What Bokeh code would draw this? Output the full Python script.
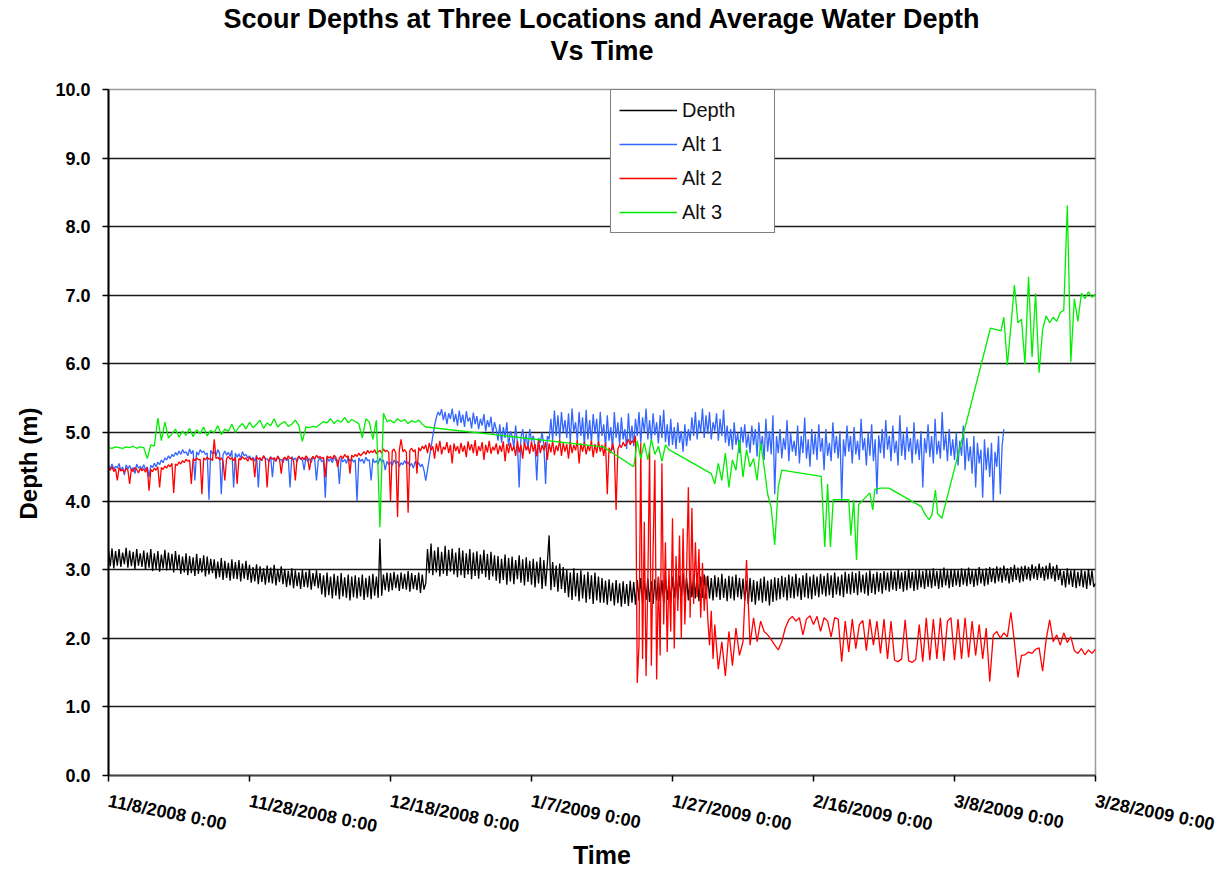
import numpy as np
import pandas as pd
from bokeh.plotting import figure
from bokeh.models import (Range1d, FixedTicker, SingleIntervalTicker,
                          PrintfTickFormatter, Legend, LegendItem, Title)
from bokeh.embed import file_html
from bokeh.resources import INLINE

# ---------------- data ----------------
START_DATE = "2008-11-08"
END_DATE = "2009-03-28"

title_lines = ["Scour Depths at Three Locations and Average Water Depth", "Vs Time"]
x_title = "Time"
y_title = "Depth (m)"

tick_dates = ["2008-11-08", "2008-11-28", "2008-12-18", "2009-01-07",
              "2009-01-27", "2009-02-16", "2009-03-08", "2009-03-28"]
tick_labels = ["11/8/2008 0:00", "11/28/2008 0:00", "12/18/2008 0:00",
               "1/7/2009 0:00", "1/27/2009 0:00", "2/16/2009 0:00",
               "3/8/2009 0:00", "3/28/2009 0:00"]

# Depth (black): samples every 0.25 day from day 0 to day 140
depth_start, depth_step = 0.0, 0.25
depth_vals = [
    3.29, 3.05, 3.31, 3.02, 3.27, 3.06, 3.30, 3.04, 3.25, 3.08, 3.32, 3.03, 3.28, 3.05, 3.26, 3.01, 3.30, 3.06, 3.24, 3.04,
    3.28, 3.00, 3.25, 3.03, 3.30, 2.98, 3.24, 3.01, 3.27, 2.97, 3.22, 3.02, 3.29, 2.99, 3.25, 3.00, 3.23, 2.96, 3.27, 3.01,
    3.22, 2.94, 3.19, 2.96, 3.24, 2.92, 3.20, 2.95, 3.18, 2.91, 3.23, 2.94, 3.17, 2.96, 3.21, 2.90, 3.19, 2.93, 3.16, 2.95,
    3.15, 2.87, 3.12, 2.89, 3.17, 2.85, 3.13, 2.88, 3.10, 2.84, 3.15, 2.87, 3.11, 2.86, 3.14, 2.83, 3.09, 2.87, 3.13, 2.85,
    3.07, 2.81, 3.04, 2.83, 3.08, 2.79, 3.05, 2.82, 3.02, 2.78, 3.06, 2.81, 3.03, 2.80, 3.07, 2.77, 3.01, 2.82, 3.05, 2.79,
    3.01, 2.75, 2.98, 2.77, 3.02, 2.73, 2.99, 2.76, 2.96, 2.72, 3.00, 2.75, 2.97, 2.74, 3.01, 2.71, 2.95, 2.76, 2.99, 2.73,
    2.95, 2.64, 2.92, 2.60, 2.96, 2.63, 2.90, 2.58, 2.94, 2.62, 2.91, 2.57, 2.95, 2.61, 2.89, 2.59, 2.93, 2.55, 2.90, 2.60,
    2.92, 2.58, 2.89, 2.61, 2.93, 2.56, 2.88, 2.60, 2.91, 2.57, 2.94, 2.62, 2.90, 2.59, 3.45, 2.62, 2.93, 2.70, 2.96, 2.68,
    2.95, 2.70, 2.97, 2.73, 2.93, 2.69, 2.96, 2.72, 2.94, 2.71, 2.98, 2.68, 2.95, 2.72, 2.92, 2.70, 2.96, 2.66, 2.93, 2.71,
    2.80, 3.30, 2.95, 3.38, 2.92, 3.28, 2.96, 3.33, 2.90, 3.26, 2.94, 3.35, 2.91, 3.29, 2.97, 3.31, 2.93, 3.25, 2.89, 3.32,
    2.92, 3.28, 2.88, 3.24, 2.93, 3.30, 2.86, 3.25, 2.91, 3.27, 2.87, 3.22, 2.94, 3.29, 2.89, 3.23, 2.85, 3.26, 2.90, 3.21,
    2.84, 3.20, 2.80, 3.16, 2.85, 3.22, 2.78, 3.17, 2.83, 3.19, 2.79, 3.14, 2.86, 3.21, 2.81, 3.15, 2.77, 3.18, 2.82, 3.13,
    2.78, 3.16, 2.74, 3.12, 2.80, 3.18, 2.72, 3.14, 2.76, 3.10, 3.50, 2.70, 3.11, 2.75, 3.06, 2.68, 3.09, 2.72, 3.04, 2.66,
    3.00, 2.60, 2.96, 2.56, 3.02, 2.61, 2.95, 2.54, 2.99, 2.58, 2.93, 2.52, 2.97, 2.57, 2.92, 2.50, 2.96, 2.55, 2.90, 2.52,
    2.88, 2.52, 2.84, 2.49, 2.86, 2.54, 2.81, 2.48, 2.85, 2.51, 2.80, 2.46, 2.83, 2.50, 2.79, 2.47, 2.84, 2.52, 2.82, 2.49,
    2.85, 2.55, 2.88, 2.52, 2.84, 2.56, 2.87, 2.53, 2.83, 2.50, 2.86, 2.55, 2.89, 2.54, 2.85, 2.51, 2.88, 2.56, 2.84, 2.53,
    2.90, 2.59, 2.93, 2.56, 2.91, 2.60, 2.95, 2.57, 2.89, 2.55, 2.94, 2.60, 2.92, 2.58, 2.96, 2.54, 2.90, 2.59, 2.93, 2.57,
    2.91, 2.58, 2.88, 2.55, 2.92, 2.60, 2.89, 2.56, 2.94, 2.59, 2.87, 2.54, 2.91, 2.58, 2.90, 2.55, 2.93, 2.60, 2.88, 2.57,
    2.87, 2.55, 2.84, 2.50, 2.88, 2.53, 2.85, 2.49, 2.83, 2.55, 2.87, 2.52, 2.90, 2.54, 2.84, 2.48, 2.86, 2.53, 2.89, 2.55,
    2.88, 2.57, 2.91, 2.60, 2.89, 2.55, 2.93, 2.59, 2.90, 2.58, 2.94, 2.61, 2.88, 2.56, 2.92, 2.60, 2.95, 2.58, 2.90, 2.57,
    2.93, 2.62, 2.90, 2.60, 2.94, 2.64, 2.91, 2.61, 2.95, 2.63, 2.92, 2.59, 2.96, 2.64, 2.90, 2.62, 2.93, 2.60, 2.97, 2.65,
    2.94, 2.64, 2.97, 2.66, 2.95, 2.63, 2.98, 2.67, 2.93, 2.65, 2.96, 2.62, 2.99, 2.66, 2.94, 2.64, 2.97, 2.68, 2.95, 2.65,
    2.98, 2.70, 2.96, 2.68, 2.99, 2.71, 2.97, 2.69, 3.00, 2.72, 2.96, 2.68, 2.98, 2.70, 3.01, 2.73, 2.97, 2.69, 2.99, 2.71,
    3.00, 2.74, 2.98, 2.72, 3.01, 2.75, 2.99, 2.73, 3.02, 2.76, 2.98, 2.72, 3.00, 2.74, 3.03, 2.77, 2.99, 2.73, 3.01, 2.75,
    3.01, 2.77, 2.99, 2.75, 3.02, 2.78, 3.00, 2.76, 3.03, 2.79, 2.99, 2.75, 3.01, 2.77, 3.04, 2.80, 3.00, 2.76, 3.02, 2.78,
    3.04, 2.82, 3.02, 2.80, 3.05, 2.83, 3.03, 2.81, 3.06, 2.84, 3.02, 2.80, 3.04, 2.82, 3.07, 2.85, 3.03, 2.81, 3.05, 2.83,
    3.06, 2.86, 3.04, 2.84, 3.08, 2.87, 3.05, 2.85, 3.09, 2.88, 3.04, 2.84, 3.06, 2.86, 3.10, 2.87, 3.05, 2.83, 3.07, 2.85,
    3.00, 2.77, 2.98, 2.74, 3.02, 2.78, 2.99, 2.75, 3.01, 2.73, 2.97, 2.76, 3.00, 2.74, 2.98, 2.72, 3.01, 2.77, 2.99, 2.75,
    2.80,
]

# Alt 1 (blue): samples every 0.25 day from day 0 to day 127
alt1_start, alt1_step = 0.0, 0.25
alt1_vals = [
    4.52, 4.47, 4.54, 4.46, 4.51, 4.48, 4.55, 4.44, 4.50, 4.38, 4.53, 4.47, 4.52, 4.45, 4.49, 4.40, 4.54, 4.48, 4.51, 4.46,
    4.53, 4.46, 4.50, 4.35, 4.52, 4.49, 4.55, 4.50, 4.57, 4.53, 4.60, 4.56, 4.63, 4.60, 4.66, 4.62, 4.68, 4.65, 4.71, 4.67,
    4.73, 4.68, 4.75, 4.70, 4.72, 4.66, 4.76, 4.69, 4.74, 4.30, 4.72, 4.67, 4.75, 4.71, 4.73, 4.68, 4.70, 4.02, 4.74, 4.69,
    4.72, 4.66, 4.75, 4.70, 4.10, 4.68, 4.73, 4.67, 4.71, 4.65, 4.74, 4.20, 4.70, 4.64, 4.69, 4.62, 4.72, 4.66, 4.68, 4.63,
    4.66, 4.60, 4.64, 4.58, 4.67, 4.20, 4.63, 4.59, 4.66, 4.61, 4.62, 4.57, 4.65, 4.35, 4.63, 4.58, 4.66, 4.60, 4.61, 4.56,
    4.64, 4.59, 4.62, 4.20, 4.65, 4.60, 4.63, 4.57, 4.66, 4.61, 4.60, 4.45, 4.64, 4.58, 4.62, 4.56, 4.65, 4.60, 4.30, 4.59,
    4.63, 4.57, 4.61, 4.05, 4.64, 4.58, 4.62, 4.56, 4.65, 4.59, 4.60, 4.25, 4.63, 4.57, 4.61, 4.55, 4.64, 4.58, 4.62, 4.57,
    4.60, 4.00, 4.63, 4.58, 4.61, 4.55, 4.64, 4.59, 4.60, 4.30, 4.62, 4.56, 4.59, 4.54, 4.63, 4.57, 4.60, 4.45, 4.58, 4.53,
    4.57, 4.52, 4.60, 4.55, 4.58, 4.50, 4.56, 4.53, 4.59, 4.54, 4.57, 4.51, 4.55, 4.48, 4.58, 4.52, 4.56, 4.50, 4.54, 4.45,
    4.30, 4.45, 4.62, 4.78, 4.95, 5.10, 5.22, 5.30, 5.25, 5.34, 5.18, 5.30, 5.12, 5.28, 5.20, 5.35, 5.15, 5.27, 5.10, 5.32,
    5.14, 5.26, 5.08, 5.31, 5.16, 5.22, 5.06, 5.29, 5.12, 5.24, 5.05, 5.20, 5.10, 5.27, 5.02, 5.18, 5.08, 5.23, 4.98, 5.15,
    5.05, 4.88, 5.12, 4.85, 5.08, 4.92, 5.15, 4.80, 5.02, 4.95, 4.78, 5.10, 4.85, 4.20, 4.92, 5.05, 4.82, 4.98, 4.75, 5.05,
    4.88, 4.95, 4.80, 4.30, 4.92, 4.85, 5.00, 4.82, 4.25, 4.95, 4.90, 5.20, 4.88, 5.32, 4.95, 5.25, 4.90, 5.30, 5.00, 5.18,
    4.92, 5.28, 4.85, 5.35, 5.00, 5.15, 4.88, 5.30, 4.95, 5.22, 4.80, 5.33, 4.90, 5.18, 4.85, 5.27, 4.98, 5.20, 4.82, 5.30,
    4.95, 5.12, 4.78, 5.25, 4.88, 5.08, 4.75, 5.30, 4.92, 5.15, 4.82, 5.22, 4.90, 5.05, 4.76, 5.28, 4.85, 5.10, 4.80, 5.20,
    4.95, 5.30, 4.85, 5.22, 5.00, 5.35, 4.90, 5.18, 4.88, 5.28, 4.96, 5.15, 4.84, 5.25, 4.92, 5.33, 4.86, 5.12, 4.80, 5.20,
    4.82, 5.08, 4.76, 5.15, 4.85, 5.02, 4.72, 5.12, 4.80, 5.05, 4.88, 5.22, 4.95, 5.30, 4.90, 5.18, 5.00, 5.35, 4.92, 5.25,
    4.98, 5.30, 4.90, 5.15, 5.02, 5.28, 4.88, 5.20, 4.95, 5.33, 4.85, 5.10, 4.80, 5.05, 4.75, 5.15, 4.82, 5.00, 4.70, 5.08,
    4.85, 5.12, 4.78, 4.98, 4.70, 5.10, 4.82, 5.05, 4.65, 5.15, 4.75, 4.95, 4.60, 5.20, 4.72, 5.02, 4.68, 5.25, 4.10, 4.95,
    4.70, 5.05, 4.62, 4.92, 4.75, 5.18, 4.58, 5.00, 4.72, 4.88, 4.66, 5.10, 4.55, 4.95, 4.70, 5.22, 4.62, 4.90, 4.50, 5.05,
    4.68, 4.98, 4.60, 5.12, 4.72, 4.92, 4.45, 5.05, 4.66, 4.85, 4.58, 5.15, 4.70, 4.95, 4.62, 5.02, 4.00, 4.90, 4.65, 5.10,
    4.72, 4.95, 4.55, 5.08, 4.68, 4.88, 4.60, 5.20, 4.74, 4.92, 4.52, 5.00, 4.66, 5.12, 4.58, 4.90, 4.10, 4.96, 4.70, 5.05,
    4.62, 5.18, 4.75, 4.95, 4.58, 5.10, 4.70, 4.88, 4.52, 5.25, 4.66, 4.98, 4.60, 5.08, 4.72, 4.92, 4.55, 5.15, 4.68, 4.90,
    4.60, 5.02, 4.20, 4.92, 4.70, 5.12, 4.64, 4.95, 4.55, 5.20, 4.68, 4.88, 4.62, 5.30, 4.74, 4.98, 4.58, 5.05, 4.66, 4.90,
    4.60, 5.00, 4.52, 4.88, 4.66, 5.10, 4.45, 4.92, 4.58, 4.80, 4.40, 4.95, 4.20, 4.85, 4.55, 4.75, 4.05, 4.90, 4.45, 4.78,
    4.35, 4.85, 4.00, 4.72, 4.50, 4.95, 4.10, 4.80, 5.05,
]

# Alt 2 (red): every 0.25 day from day 0 to 85.75, then every 0.5 day to day 140
alt2_a_start, alt2_a_step = 0.0, 0.25
alt2_a = [
    4.48, 4.45, 4.50, 4.43, 4.47, 4.30, 4.49, 4.44, 4.46, 4.42, 4.48, 4.45, 4.25, 4.47, 4.43, 4.49, 4.46, 4.41, 4.48, 4.44,
    4.47, 4.42, 4.49, 4.15, 4.46, 4.43, 4.48, 4.45, 4.50, 4.20, 4.49, 4.46, 4.51, 4.48, 4.53, 4.50, 4.55, 4.12, 4.54, 4.52,
    4.57, 4.54, 4.59, 4.56, 4.61, 4.58, 4.60, 4.25, 4.62, 4.59, 4.63, 4.60, 4.61, 4.10, 4.63, 4.60, 4.64, 4.61, 4.62, 4.59,
    4.90, 4.62, 4.64, 4.60, 4.63, 4.58, 4.30, 4.62, 4.65, 4.61, 4.63, 4.59, 4.64, 4.25, 4.62, 4.60, 4.65, 4.61, 4.63, 4.58,
    4.64, 4.60, 4.62, 4.35, 4.65, 4.61, 4.63, 4.59, 4.66, 4.62, 4.20, 4.60, 4.64, 4.61, 4.63, 4.58, 4.65, 4.62, 4.40, 4.61,
    4.64, 4.60, 4.66, 4.62, 4.63, 4.59, 4.30, 4.62, 4.65, 4.61, 4.64, 4.60, 4.66, 4.63, 4.45, 4.62, 4.65, 4.61, 4.67, 4.63,
    4.65, 4.62, 4.64, 4.35, 4.66, 4.63, 4.65, 4.61, 4.67, 4.64, 4.50, 4.63, 4.66, 4.62, 4.68, 4.64, 4.66, 4.40, 4.67, 4.64,
    4.68, 4.65, 4.70, 4.66, 4.69, 4.72, 4.68, 4.74, 4.70, 4.73, 4.71, 4.75, 4.69, 4.72, 4.74, 4.70, 4.76, 4.72, 4.74, 4.71,
    4.00, 4.73, 4.76, 4.70, 3.77, 4.74, 4.90, 4.72, 4.75, 4.71, 3.83, 4.74, 4.77, 4.72, 4.75, 4.40, 4.78, 4.73, 4.80, 4.76,
    4.82, 4.70, 4.85, 4.74, 4.80, 4.62, 4.84, 4.72, 4.88, 4.68, 4.79, 4.75, 4.86, 4.70, 4.82, 4.55, 4.84, 4.73, 4.80, 4.69,
    4.85, 4.72, 4.81, 4.64, 4.87, 4.74, 4.83, 4.70, 4.89, 4.66, 4.80, 4.73, 4.86, 4.60, 4.82, 4.71, 4.88, 4.69, 4.79, 4.74,
    4.84, 4.68, 4.81, 4.72, 4.87, 4.58, 4.83, 4.70, 4.85, 4.73, 4.80, 4.66, 4.88, 4.71, 4.82, 4.62, 4.86, 4.74, 4.81, 4.69,
    4.87, 4.72, 4.83, 4.65, 4.89, 4.70, 4.82, 4.74, 4.86, 4.60, 4.84, 4.71, 4.88, 4.67, 4.81, 4.73, 4.90, 4.66, 4.85, 4.72,
    4.83, 4.62, 4.87, 4.70, 4.82, 4.74, 4.89, 4.55, 4.84, 4.72, 4.86, 4.68, 4.81, 4.73, 4.88, 4.64, 4.83, 4.70, 4.87, 4.72,
    4.82, 4.66, 4.85, 4.10, 4.78, 4.70, 4.84, 4.72, 3.87, 4.76, 4.82, 4.78, 4.86, 4.80, 4.84, 4.90, 4.82, 4.88, 4.85, 4.95,
    1.35, 1.90, 4.85, 1.70, 3.70, 1.45, 2.80, 4.75, 1.60, 3.30, 4.60, 1.40, 2.90, 1.75, 4.55, 2.20, 3.40, 1.80, 3.00, 2.10,
    3.75, 1.85, 3.20, 2.40, 3.50, 2.00, 3.60, 2.20, 3.00, 4.20, 2.30, 3.90, 2.50, 3.40, 2.60, 3.30, 2.30, 3.10, 2.40, 2.90,
    2.30, 1.90, 2.40, 1.70,
]
alt2_b_start, alt2_b_step = 86.0, 0.5
alt2_b = [
    2.20, 1.55, 1.95, 1.45, 2.10, 1.60, 2.15, 1.75,
    1.95, 3.14, 1.90, 2.30, 1.95, 2.25, 2.10, 2.05, 1.98, 1.90, 1.83, 1.95, 2.15, 2.27, 2.32, 2.25, 2.30, 2.05, 2.28, 2.33,
    2.20, 2.32, 2.10, 2.30, 2.25, 2.02, 2.30, 2.28, 1.66, 2.25, 1.80, 2.28, 1.85, 2.20, 2.26, 1.82, 2.28, 1.90, 2.25, 1.78,
    2.28, 1.70, 2.25, 1.68, 1.66, 1.70, 2.27, 1.67, 1.65, 1.69, 2.20, 1.66, 2.30, 1.68, 2.28, 1.70, 2.30, 1.67, 2.25, 2.30,
    1.68, 2.28, 1.70, 2.30, 1.72, 2.25, 1.75, 2.20, 1.70, 2.15, 1.37, 2.05, 2.10, 2.00, 2.08, 2.02, 2.38, 1.95, 1.43, 1.75,
    1.76, 1.80, 1.78, 1.84, 1.86, 1.52, 1.98, 2.27, 1.95, 2.05, 1.90, 2.08, 1.94, 2.02, 1.82, 1.78, 1.85, 1.76, 1.83, 1.78,
    1.84,
]

# Alt 3 (green): dense pieces (every 0.5 day) and sparse pieces joined by straight lines
alt3_step = 0.5
alt3_a_start = 0.0
alt3_a = [
    4.78, 4.77, 4.79, 4.78, 4.77, 4.79, 4.78, 4.80, 4.77, 4.79, 4.78, 4.62, 4.82, 4.80, 5.21, 4.88, 5.15, 4.92, 4.98, 5.05,
    4.93, 5.02, 4.96, 5.06, 4.94, 5.04, 4.98, 5.08, 4.95, 5.03, 5.00, 5.10, 4.97, 5.05, 5.02, 5.12, 5.00, 5.08, 5.13, 5.05,
    5.15, 5.07, 5.12, 5.18, 5.06, 5.14, 5.10, 5.20, 5.08, 5.13, 5.16, 5.09, 5.12, 5.18, 5.10, 4.87, 5.08, 5.07, 5.09, 5.08,
    5.12, 5.16, 5.14, 5.20, 5.13, 5.18, 5.15, 5.22, 5.14, 5.19, 5.16, 5.13, 4.92, 5.20, 5.15, 4.90, 5.18, 3.62, 5.28, 5.16,
    5.18, 5.14, 5.20, 5.16, 5.19, 5.13, 5.17, 5.15, 5.18, 5.12, 5.08,
]
alt3_b_days = [70.2, 74.5]
alt3_b = [4.79, 4.50]
alt3_c_start = 75.0
alt3_c = [4.88, 4.62, 4.85, 4.60, 4.90, 4.68, 4.80, 4.58, 4.82, 4.75]
alt3_d_start = 85.5
alt3_d = [4.40, 4.25, 4.55, 4.30, 4.70, 4.20, 4.60, 4.45, 4.89, 4.35, 4.75, 4.50, 4.62, 4.30, 4.85,
          4.50, 4.10, 3.90, 3.36, 4.20, 4.45]
alt3_e_days = [101.1, 101.6, 102.0, 102.4, 102.8, 105.0, 105.3, 105.7, 106.1, 106.4, 108.0, 108.4, 108.7,
               109.5, 110.7, 115.3, 115.6, 116.0, 116.4, 116.8, 117.3, 117.6, 118.2, 125.1, 126.6]
alt3_e = [4.36, 3.33, 4.25, 3.33, 4.02, 4.02, 3.50, 4.02, 3.14, 3.95, 4.12, 3.87, 4.17,
          4.19, 4.19, 3.92, 3.85, 3.78, 3.73, 3.80, 4.16, 3.82, 3.75, 6.52, 6.48]
alt3_f_start = 127.0
alt3_f = [6.68, 5.98, 6.55, 7.15, 6.60, 6.65, 6.00, 7.27, 6.10, 7.03, 5.87, 6.50, 6.70, 6.60,
          6.68, 6.62, 6.75, 6.78, 8.31, 6.03, 6.95, 6.62, 7.03, 6.95, 7.05, 6.97, 7.02]

series_names = ["Depth", "Alt 1", "Alt 2", "Alt 3"]
series_colors = ["#000000", "#3366FF", "#FF0000", "#00EE00"]

# ---------------- helpers ----------------
t0 = pd.Timestamp(START_DATE)


def dense_days(start, step, vals):
    return start + step * np.arange(len(vals))


def to_time(days):
    return t0 + pd.to_timedelta(np.asarray(days, dtype=float), unit="D")


depth_t = to_time(dense_days(depth_start, depth_step, depth_vals))
alt1_t = to_time(dense_days(alt1_start, alt1_step, alt1_vals))
alt2_t = to_time(np.concatenate([dense_days(alt2_a_start, alt2_a_step, alt2_a),
                                 dense_days(alt2_b_start, alt2_b_step, alt2_b)]))
alt2_vals = alt2_a + alt2_b
alt3_days = np.concatenate([
    dense_days(alt3_a_start, alt3_step, alt3_a), alt3_b_days,
    dense_days(alt3_c_start, alt3_step, alt3_c),
    dense_days(alt3_d_start, alt3_step, alt3_d), alt3_e_days,
    dense_days(alt3_f_start, alt3_step, alt3_f)])
alt3_vals = alt3_a + alt3_b + alt3_c + alt3_d + alt3_e + alt3_f
alt3_t = to_time(alt3_days)

# ---------------- layout ----------------
FONT = "Liberation Sans"
W, H = 1228, 872
B_LEFT, B_RIGHT, B_TOP, B_BOTTOM = 108, 133, 89, 96
FRAME_H = H - B_TOP - B_BOTTOM

p = figure(width=W, height=H, x_axis_type="datetime",
           x_range=Range1d(pd.Timestamp(START_DATE), pd.Timestamp(END_DATE)),
           y_range=Range1d(0, 10),
           output_backend="svg", toolbar_location=None,
           min_border_left=B_LEFT, min_border_right=B_RIGHT,
           min_border_top=B_TOP, min_border_bottom=B_BOTTOM,
           background_fill_color="white", border_fill_color="white")

# title: first line is the outer title; the second line (with an empty line
# under it for spacing) sits nearer the plot
p.title.text = title_lines[0]
p.title.align = "center"
p.title.text_font = FONT
p.title.text_font_size = "27px"
p.title.text_font_style = "bold"
p.title.text_color = "black"
p.title.standoff = 0
p.add_layout(Title(text=title_lines[1] + "\n", align="center", text_font=FONT,
                   text_font_size="27px", text_font_style="bold",
                   text_color="black", text_line_height=0.8, standoff=0), "above")

# y axis title as a left-side title, shifted along the axis
p.add_layout(Title(text=y_title, align="left", offset=256, text_font=FONT,
                   text_font_size="24px", text_font_style="bold",
                   text_color="black", standoff=21), "left")

p.outline_line_color = "#9a9a9a"
p.outline_line_width = 1.5

# grid
p.xgrid.visible = False
p.ygrid.grid_line_color = "#1a1a1a"
p.ygrid.grid_line_width = 1.5

# y axis
p.yaxis.ticker = SingleIntervalTicker(interval=1, num_minor_ticks=0)
p.yaxis.formatter = PrintfTickFormatter(format="%.1f")
p.yaxis.major_label_text_font = FONT
p.yaxis.major_label_text_font_size = "18px"
p.yaxis.major_label_text_font_style = "bold"
p.yaxis.major_label_text_color = "black"
p.yaxis.major_label_standoff = 12
p.yaxis.axis_line_color = "black"
p.yaxis.axis_line_width = 2
p.yaxis.major_tick_line_color = "black"
p.yaxis.major_tick_line_width = 1.5
p.yaxis.major_tick_out = 6
p.yaxis.major_tick_in = 0
p.yaxis.minor_tick_line_color = None

# x axis
tick_ms = [int(pd.Timestamp(d).value // 10**6) for d in tick_dates]
p.xaxis.ticker = FixedTicker(ticks=tick_ms, minor_ticks=[])
p.xaxis.major_label_overrides = {ms: lab for ms, lab in zip(tick_ms, tick_labels)}
p.xaxis.major_label_orientation = -0.2
p.xaxis.axis_label = x_title
p.xaxis.axis_label_text_font = FONT
p.xaxis.axis_label_text_font_size = "25px"
p.xaxis.axis_label_text_font_style = "bold"
p.xaxis.axis_label_text_color = "black"
p.xaxis.axis_label_standoff = -8
p.xaxis.major_label_text_font = FONT
p.xaxis.major_label_text_font_size = "18px"
p.xaxis.major_label_text_font_style = "bold"
p.xaxis.major_label_text_color = "black"
p.xaxis.major_label_standoff = 19
p.xaxis.axis_line_color = "#444444"
p.xaxis.axis_line_width = 2
p.xaxis.major_tick_line_color = "black"
p.xaxis.major_tick_line_width = 1.5
p.xaxis.major_tick_out = 6
p.xaxis.major_tick_in = 0
p.xaxis.minor_tick_line_color = None

# lines
LW = 1.3
r_depth = p.line(depth_t, depth_vals, line_color=series_colors[0], line_width=LW)
r_alt1 = p.line(alt1_t, alt1_vals, line_color=series_colors[1], line_width=LW)
r_alt2 = p.line(alt2_t, alt2_vals, line_color=series_colors[2], line_width=LW)
r_alt3 = p.line(alt3_t, alt3_vals, line_color=series_colors[3], line_width=LW)

legend = Legend(items=[LegendItem(label=n, renderers=[r])
                       for n, r in zip(series_names, [r_depth, r_alt1, r_alt2, r_alt3])],
                location=(502, FRAME_H - 145))
legend.border_line_color = "black"
legend.border_line_width = 1
legend.background_fill_color = "white"
legend.background_fill_alpha = 1
legend.label_text_font = FONT
legend.label_text_font_size = "20px"
legend.label_text_color = "#111111"
legend.glyph_width = 58
legend.glyph_height = 24
legend.label_height = 24
legend.label_width = 84
legend.label_standoff = 5
legend.spacing = 10
legend.padding = 8
legend.margin = 0
p.add_layout(legend)

open("out.html", "w").write(file_html(p, INLINE))
